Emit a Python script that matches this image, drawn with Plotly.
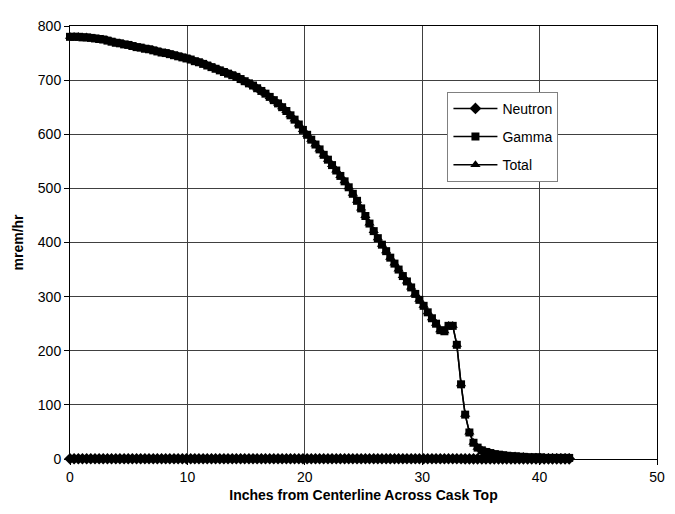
import plotly.graph_objects as go

# Distance from centerline (inches), sampled every 0.9 cm
x_in = [
    0.00, 0.35, 0.71, 1.06, 1.42, 1.77, 2.13, 2.48, 2.83, 3.19,
    3.54, 3.90, 4.25, 4.61, 4.96, 5.31, 5.67, 6.02, 6.38, 6.73,
    7.09, 7.44, 7.80, 8.15, 8.50, 8.86, 9.21, 9.57, 9.92, 10.28,
    10.63, 10.98, 11.34, 11.69, 12.05, 12.40, 12.76, 13.11, 13.46, 13.82,
    14.17, 14.53, 14.88, 15.24, 15.59, 15.94, 16.30, 16.65, 17.01, 17.36,
    17.72, 18.07, 18.43, 18.78, 19.13, 19.49, 19.84, 20.20, 20.55, 20.91,
    21.26, 21.61, 21.97, 22.32, 22.68, 23.03, 23.39, 23.74, 24.09, 24.45,
    24.80, 25.16, 25.51, 25.87, 26.22, 26.57, 26.93, 27.28, 27.64, 27.99,
    28.35, 28.70, 29.06, 29.41, 29.76, 30.12, 30.47, 30.83, 31.18, 31.54,
    31.89, 32.24, 32.60, 32.95, 33.31, 33.66, 34.02, 34.37, 34.72, 35.08,
    35.43, 35.79, 36.14, 36.50, 36.85, 37.20, 37.56, 37.91, 38.27, 38.62,
    38.98, 39.33, 39.69, 40.04, 40.39, 40.75, 41.10, 41.46, 41.81, 42.17,
    42.52,
]

gamma = [
    780, 780, 780, 779, 779, 778, 777, 776, 775, 773,
    771, 769, 768, 766, 765, 763, 761, 760, 758, 757,
    755, 753, 751, 750, 748, 746, 744, 742, 740, 738,
    735, 733, 730, 727, 724, 721, 718, 715, 712, 709,
    706, 702, 698, 694, 690, 685, 680, 675, 669, 663,
    657, 650, 643, 635, 627, 618, 608, 599, 590, 581,
    572, 562, 553, 543, 533, 523, 513, 502, 490, 477,
    463, 449, 435, 421, 408, 396, 384, 372, 361, 350,
    338, 328, 317, 305, 294, 283, 271, 260, 250, 238,
    236, 246, 246, 211, 138, 82, 49, 30, 21, 16,
    13, 11, 9, 8, 7, 6, 5, 5, 4, 4,
    3, 3, 3, 3, 2, 2, 2, 2, 2, 2,
    2,
]

neutron = [
    0.5, 0.5, 0.5, 0.5, 0.5, 0.5, 0.5, 0.5, 0.5, 0.5,
    0.5, 0.5, 0.5, 0.5, 0.5, 0.5, 0.5, 0.5, 0.5, 0.5,
    0.5, 0.5, 0.5, 0.5, 0.5, 0.5, 0.5, 0.5, 0.5, 0.5,
    0.5, 0.5, 0.5, 0.5, 0.5, 0.5, 0.5, 0.5, 0.5, 0.5,
    0.5, 0.5, 0.5, 0.5, 0.5, 0.5, 0.5, 0.5, 0.5, 0.5,
    0.5, 0.5, 0.5, 0.5, 0.5, 0.5, 0.5, 0.5, 0.5, 0.5,
    0.5, 0.5, 0.5, 0.5, 0.5, 0.5, 0.5, 0.5, 0.5, 0.5,
    0.5, 0.5, 0.5, 0.5, 0.5, 0.5, 0.5, 0.5, 0.5, 0.5,
    0.5, 0.5, 0.5, 0.5, 0.5, 0.5, 0.5, 0.5, 0.5, 0.5,
    0.5, 0.5, 0.5, 0.5, 0.5, 0.4, 0.4, 0.4, 0.4, 0.4,
    0.4, 0.4, 0.4, 0.4, 0.4, 0.4, 0.4, 0.4, 0.4, 0.4,
    0.4, 0.4, 0.4, 0.4, 0.4, 0.4, 0.4, 0.4, 0.4, 0.4,
    0.4,
]

total = [g + n for g, n in zip(gamma, neutron)]

series_names = ["Neutron", "Gamma", "Total"]
x_ticks = [0, 10, 20, 30, 40, 50]
y_ticks = [0, 100, 200, 300, 400, 500, 600, 700, 800]

FONT = "Liberation Sans, Arial, sans-serif"

fig = go.Figure()
styles = [
    (neutron, "diamond", 9),
    (gamma, "square", 8),
    (total, "triangle-up", 9),
]
for name, (vals, sym, size) in zip(series_names, styles):
    fig.add_trace(go.Scatter(
        x=x_in, y=vals, name=name, mode="lines+markers",
        line=dict(color="black", width=1.5),
        marker=dict(symbol=sym, size=size, color="black"),
        cliponaxis=False, legendgroup=name,
    ))

fig.update_layout(
    width=667, height=506,
    margin=dict(l=59, r=10, t=12, b=55),
    paper_bgcolor="white", plot_bgcolor="white",
    font=dict(family=FONT, size=14, color="black"),
    showlegend=True,
    legend=dict(
        x=0.643, y=0.848, xanchor="left", yanchor="top",
        bgcolor="white", bordercolor="#808080", borderwidth=1,
        font=dict(family=FONT, size=14, color="black"),
        traceorder="grouped", tracegroupgap=7, itemwidth=44,
    ),
    xaxis=dict(
        range=[0, 50], tickvals=x_ticks, showgrid=True,
        gridcolor="#404040", gridwidth=1, zeroline=False,
        showline=True, linecolor="black", linewidth=1, mirror=True,
        ticks="outside", ticklen=5, tickcolor="black",
        tickfont=dict(size=14),
        title=dict(text="<b>Inches from Centerline Across Cask Top</b>",
                   font=dict(size=14), standoff=6),
    ),
    yaxis=dict(
        range=[0, 800], tickvals=y_ticks, showgrid=True,
        gridcolor="#404040", gridwidth=1, zeroline=False,
        showline=True, linecolor="black", linewidth=1, mirror=True,
        ticks="outside", ticklen=5, tickcolor="black",
        tickfont=dict(size=14),
        title=dict(text="<b>mrem/hr</b>", font=dict(size=14), standoff=10),
    ),
)

fig.write_html("out.html")
